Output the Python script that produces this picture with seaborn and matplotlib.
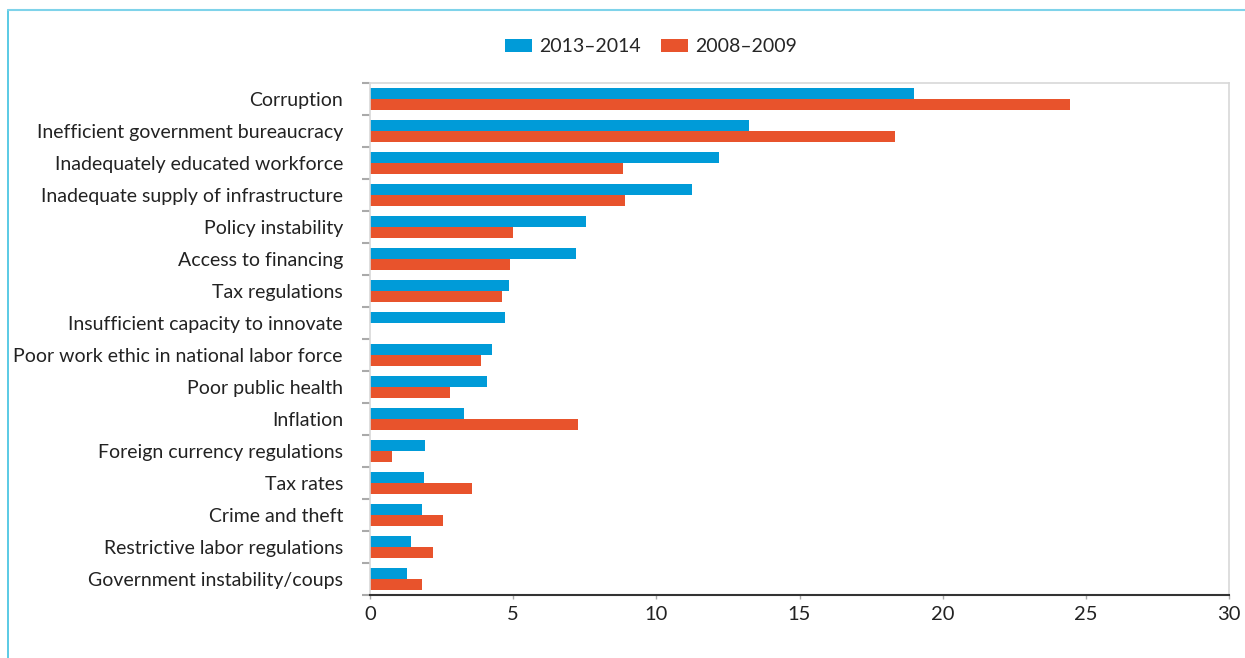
import matplotlib
matplotlib.use("Agg")
import matplotlib.pyplot as plt
import seaborn as sns
import pandas as pd
import numpy as np
from matplotlib.lines import Line2D
from matplotlib.patches import Patch

categories = [
    "Corruption",
    "Inefficient government bureaucracy",
    "Inadequately educated workforce",
    "Inadequate supply of infrastructure",
    "Policy instability",
    "Access to financing",
    "Tax regulations",
    "Insufficient capacity to innovate",
    "Poor work ethic in national labor force",
    "Poor public health",
    "Inflation",
    "Foreign currency regulations",
    "Tax rates",
    "Crime and theft",
    "Restrictive labor regulations",
    "Government instability/coups",
]
series_names = ["2013\u20132014", "2008\u20132009"]
values_2013_2014 = [19.0, 13.25, 12.2, 11.25, 7.55, 7.2, 4.85, 4.7, 4.25, 4.1, 3.3, 1.93, 1.9, 1.82, 1.44, 1.3]
values_2008_2009 = [24.45, 18.35, 8.85, 8.9, 5.0, 4.9, 4.6, 0.0, 3.88, 2.8, 7.25, 0.77, 3.57, 2.55, 2.2, 1.82]
x_ticks = [0, 5, 10, 15, 20, 25, 30]

colors = ["#009BD8", "#E8532C"]

df = pd.DataFrame({
    "factor": categories * 2,
    "value": values_2013_2014 + values_2008_2009,
    "period": [series_names[0]] * len(categories) + [series_names[1]] * len(categories),
})

sns.set_theme(style="white")
plt.rcParams["font.family"] = ["Lato", "DejaVu Sans"]

fig = plt.figure(figsize=(12.45, 6.58), dpi=100)
ax = fig.add_axes([370 / 1245, 1 - 595 / 658, (1229 - 370) / 1245, (595 - 83) / 658])

sns.barplot(data=df, y="factor", x="value", hue="period", order=categories,
            hue_order=series_names, palette=colors, orient="h", width=0.66,
            saturation=1, ax=ax, legend=False, linewidth=0)

ax.set_xlim(0, 30)
ax.set_ylim(len(categories) - 0.5, -0.5)
ax.set_xticks(x_ticks)
ax.set_xticklabels([str(t) for t in x_ticks])
ax.set_xlabel("")
ax.set_ylabel("")

ax.tick_params(axis="x", which="major", bottom=True, length=3, width=1, color="#aaaaaa",
               labelsize=14.5, labelcolor="#222222", pad=5, direction="out")
ax.tick_params(axis="y", which="major", left=False, length=0, labelsize=14,
               labelcolor="#222222", pad=19.5)
ax.set_yticks(np.arange(-0.5, len(categories), 1.0), minor=True)
ax.tick_params(axis="y", which="minor", left=True, length=6, width=1.5, color="#aaaaaa")

for s in ["top", "right", "left"]:
    ax.spines[s].set_color("#d8d8d8")
    ax.spines[s].set_linewidth(1.2)
ax.spines["bottom"].set_color("#333333")
ax.spines["bottom"].set_linewidth(1.5)

handles = [Patch(facecolor=c, edgecolor="none") for c in colors]
fig.legend(handles, series_names, loc="center", bbox_to_anchor=(651 / 1245, 1 - 47 / 658),
           ncol=2, frameon=False, fontsize=14, handlelength=1.4, handleheight=0.6,
           handletextpad=0.4, columnspacing=1.0)

# outer frame lines
fig.add_artist(Line2D([8 / 1245, 8 / 1245], [0, 1 - 10 / 658], color="#3EC1E0", lw=1.2,
                      transform=fig.transFigure))
fig.add_artist(Line2D([8 / 1245, 1], [1 - 10 / 658, 1 - 10 / 658], color="#7FD3EA", lw=1.5,
                      transform=fig.transFigure))

fig.savefig("out.png", dpi=100)
